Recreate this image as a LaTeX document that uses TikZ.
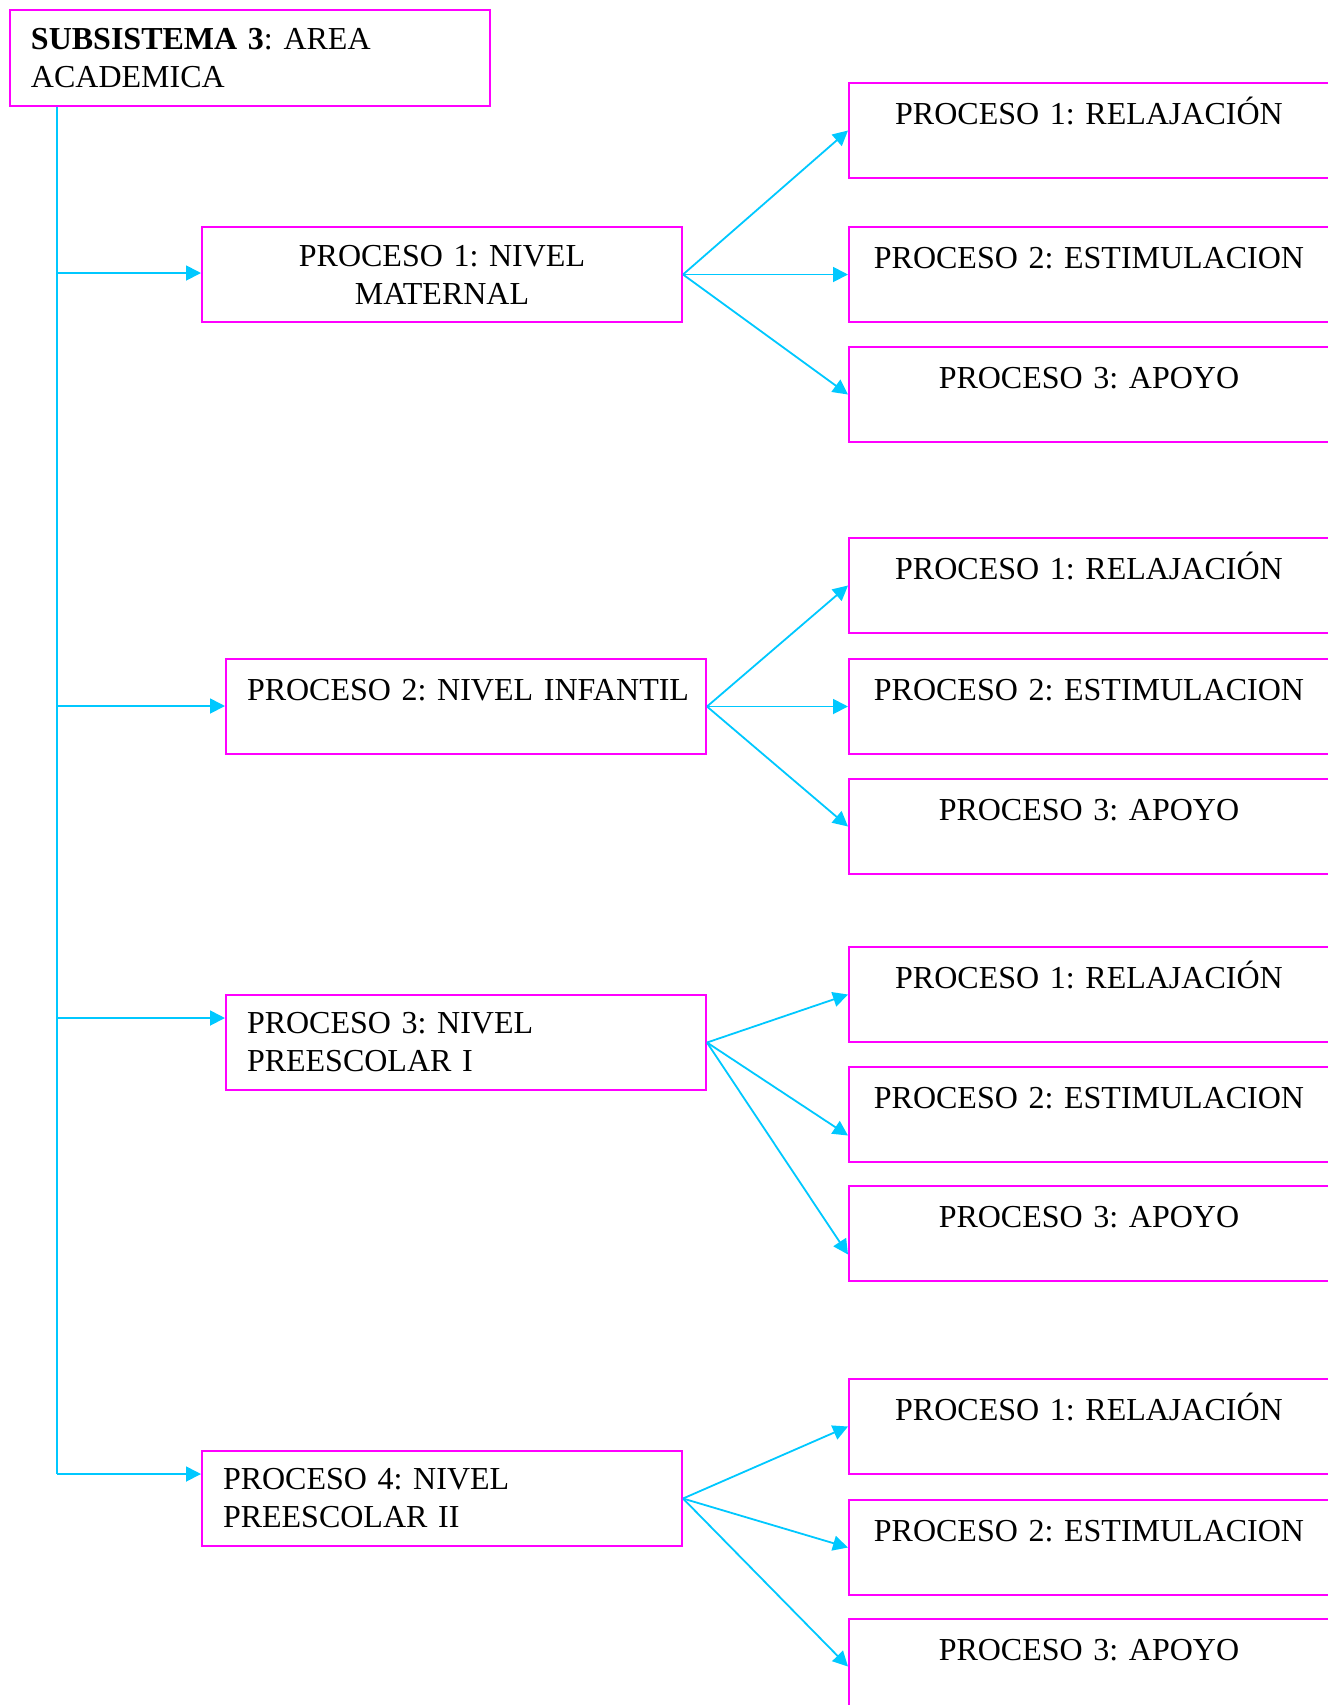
\documentclass[tikz,border=0pt]{standalone}
\usepackage{fontspec}
\setmainfont{Liberation Serif}
\usetikzlibrary{arrows.meta}
\definecolor{rosa}{RGB}{255,0,255}
\definecolor{celeste}{RGB}{0,200,255}
\frenchspacing
\tikzset{
	caja/.style={draw=rosa, line width=1pt, anchor=north west, inner xsep=10.5pt, text width=219pt, font=\fontsize{16pt}{19pt}\selectfont},
	doble/.style={caja, inner ysep=0pt, minimum height=47.5pt},
	simple/.style={caja, inner ysep=0pt, text height=20.5pt, text depth=27pt},
	linea/.style={draw=celeste, line width=0.9pt},
	flecha/.style={linea, -{Triangle[length=7.5pt,width=7.5pt]}}
}
\begin{document}
\begin{tikzpicture}[x=0.5pt,y=-0.5pt]
	\useasboundingbox (0,0) rectangle (1328,1705);
	\node[doble, minimum height=48pt, align=left] (sub) at (9,9) {\textbf{SUBSISTEMA 3}: AREA\\ACADEMICA};
	\node[doble, align=center] (n1) at (201,226) {PROCESO 1: NIVEL\\MATERNAL};
	\node[simple, align=left] (n2) at (225,658) {\mbox{PROCESO 2: NIVEL INFANTIL}};
	\node[doble, align=left] (n3) at (225,994) {PROCESO 3: NIVEL\\PREESCOLAR I};
	\node[doble, align=left] (n4) at (201,1450) {PROCESO 4: NIVEL\\PREESCOLAR II};
	% procesos de cada nivel
	\node[simple, align=center] (r11) at (848,82) {PROCESO 1: RELAJACIÓN};
	\node[simple, align=center] (r12) at (848,226) {PROCESO 2: ESTIMULACION};
	\node[simple, align=center] (r13) at (848,346) {PROCESO 3: APOYO};
	\node[simple, align=center] (r21) at (848,537) {PROCESO 1: RELAJACIÓN};
	\node[simple, align=center] (r22) at (848,658) {PROCESO 2: ESTIMULACION};
	\node[simple, align=center] (r23) at (848,778) {PROCESO 3: APOYO};
	\node[simple, align=center] (r31) at (848,946) {PROCESO 1: RELAJACIÓN};
	\node[simple, align=center] (r32) at (848,1066) {PROCESO 2: ESTIMULACION};
	\node[simple, align=center] (r33) at (848,1185) {PROCESO 3: APOYO};
	\node[simple, align=center] (r41) at (848,1378) {PROCESO 1: RELAJACIÓN};
	\node[simple, align=center] (r42) at (848,1499) {PROCESO 2: ESTIMULACION};
	\node[simple, align=center] (r43) at (848,1618) {PROCESO 3: APOYO};
	% tronco
	\coordinate (t1) at (57,273);
	\coordinate (t2) at (57,706);
	\coordinate (t3) at (57,1018);
	\coordinate (t4) at (57,1474);
	\draw[linea] (sub.south -| t1) -- (t4);
	\draw[flecha] (t1) -- (n1.west |- t1);
	\draw[flecha] (t2) -- (n2.west |- t2);
	\draw[flecha] (t3) -- (n3.west |- t3);
	\draw[flecha] (t4) -- (n4.west |- t4);
	% ramas
	\draw[flecha] (n1.east) -- (r11.west);
	\draw[flecha] (n1.east) -- (r12.west);
	\draw[flecha] (n1.east) -- (r13.west);
	\draw[flecha] (n2.east) -- (r21.west);
	\draw[flecha] (n2.east) -- (r22.west);
	\draw[flecha] (n2.east) -- (r23.west);
	\draw[flecha] (n3.east) -- (r31.west);
	\draw[flecha] (n3.east) -- ([yshift=-10.5pt]r32.west);
	\draw[flecha] (n3.east) -- ([yshift=-10.5pt]r33.west);
	\draw[flecha] (n4.east) -- (r41.west);
	\draw[flecha] (n4.east) -- (r42.west);
	\draw[flecha] (n4.east) -- (r43.west);
\end{tikzpicture}
\end{document}
